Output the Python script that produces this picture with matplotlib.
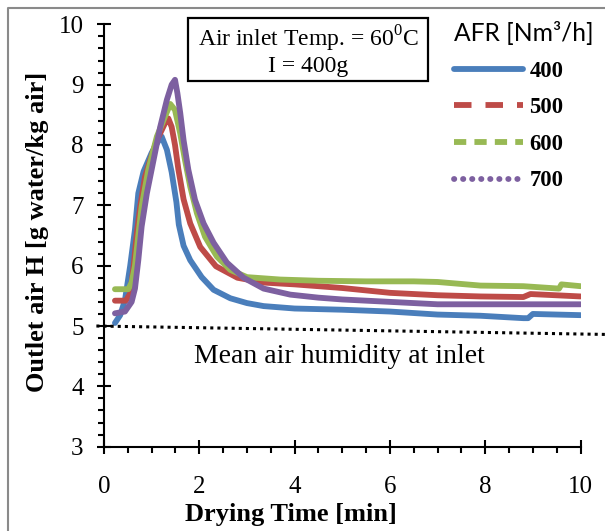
import matplotlib
matplotlib.use("Agg")
import matplotlib.pyplot as plt
from matplotlib.lines import Line2D
from matplotlib.patches import Rectangle
from matplotlib.ticker import MultipleLocator

# Outlet air humidity during drying, for four air flow rates
afr_labels = ["400", "500", "600", "700"]

t_400 = [0.23, 0.34, 0.44, 0.55, 0.65, 0.72, 0.83, 1.00, 1.12, 1.21, 1.32, 1.42,
         1.52, 1.57, 1.67, 1.81, 2.05, 2.30, 2.65, 3.00, 3.35, 4.0, 4.5, 5.0,
         6.0, 7.0, 7.9, 8.8, 8.9, 9.0, 10.0]
h_400 = [5.05, 5.18, 5.43, 6.00, 6.60, 7.20, 7.56, 7.87, 8.04, 8.14, 7.92, 7.55,
         7.05, 6.68, 6.33, 6.09, 5.81, 5.60, 5.46, 5.38, 5.33, 5.29, 5.28, 5.27,
         5.24, 5.19, 5.17, 5.13, 5.13, 5.20, 5.18]

t_500 = [0.23, 0.46, 0.55, 0.62, 0.69, 0.76, 0.86, 0.97, 1.11, 1.28, 1.35, 1.42,
         1.49, 1.56, 1.67, 1.81, 2.02, 2.35, 2.80, 3.35, 4.0, 5.0, 6.0, 7.0,
         7.9, 8.8, 8.95, 10.0]
h_500 = [5.42, 5.42, 5.54, 5.98, 6.54, 6.98, 7.47, 7.75, 8.08, 8.36, 8.44, 8.30,
         8.00, 7.60, 7.10, 6.70, 6.31, 5.99, 5.80, 5.72, 5.69, 5.63, 5.55, 5.51,
         5.49, 5.48, 5.53, 5.49]

t_600 = [0.23, 0.51, 0.58, 0.65, 0.72, 0.79, 0.93, 1.11, 1.28, 1.39, 1.49, 1.60,
         1.70, 1.81, 1.95, 2.12, 2.37, 2.65, 3.0, 3.7, 4.5, 5.5, 6.5, 7.0,
         7.9, 8.8, 9.55, 9.6, 10.0]
h_600 = [5.61, 5.61, 5.72, 6.00, 6.50, 6.98, 7.59, 8.14, 8.47, 8.68, 8.58, 8.19,
         7.75, 7.31, 6.87, 6.48, 6.15, 5.93, 5.81, 5.77, 5.75, 5.74, 5.74, 5.73,
         5.67, 5.66, 5.62, 5.69, 5.66]

t_700 = [0.23, 0.44, 0.58, 0.65, 0.72, 0.79, 0.90, 1.04, 1.18, 1.32, 1.42, 1.49,
         1.54, 1.60, 1.67, 1.77, 1.91, 2.09, 2.30, 2.58, 2.93, 3.35, 3.91, 4.5,
         5.0, 6.0, 7.0, 7.9, 10.0]
h_700 = [5.21, 5.24, 5.40, 5.62, 6.09, 6.65, 7.20, 7.75, 8.30, 8.75, 9.00, 9.08,
         8.86, 8.53, 8.08, 7.59, 7.09, 6.70, 6.38, 6.05, 5.80, 5.62, 5.52, 5.47,
         5.44, 5.40, 5.36, 5.36, 5.36]

# Mean humidity of the inlet air (reference line)
inlet_t = [-0.16, 10.57]
inlet_h = [5.00, 4.86]

x_ticks = [0, 2, 4, 6, 8, 10]
y_ticks = [3, 4, 5, 6, 7, 8, 9, 10]

colors = ["#4A7EBB", "#BE4B48", "#98B954", "#7D60A0"]
legend_dashes = [None, (3.0, 2.4), (2.1, 1.4), (0.05, 1.5)]

SERIF = "Liberation Serif"
plt.rcParams["mathtext.fontset"] = "custom"
plt.rcParams["mathtext.rm"] = SERIF

W, H = 605, 531
fig = plt.figure(figsize=(W / 100, H / 100), dpi=100)
ax = fig.add_axes([104 / W, 1 - 446.7 / H, 476.5 / W, 422.4 / H])

series = [(t_400, h_400), (t_500, h_500), (t_600, h_600), (t_700, h_700)]
lw = 4.2
for (t, h), c in zip(series, colors):
    ax.plot(t, h, color=c, lw=lw, solid_capstyle="round", solid_joinstyle="round")

ax.plot(inlet_t, inlet_h, color="black", lw=2.2, dashes=(1, 1.33),
        dash_capstyle="butt", clip_on=False)

ax.set_xlim(0, 10)
ax.set_ylim(3, 10)
ax.set_xticks(x_ticks)
ax.set_yticks(y_ticks)
ax.xaxis.set_minor_locator(MultipleLocator(0.5))
ax.yaxis.set_minor_locator(MultipleLocator(0.2))

for s in ("top", "right"):
    ax.spines[s].set_visible(False)
for s in ("left", "bottom"):
    ax.spines[s].set_linewidth(1.5)

ax.tick_params(which="major", direction="inout", length=9.5, width=1.5,
               labelsize=18)
ax.tick_params(which="minor", direction="out", length=4.3, width=1.5)
ax.tick_params(axis="x", which="major", pad=16)
ax.tick_params(axis="y", which="major", pad=10)
for lab in ax.get_xticklabels() + ax.get_yticklabels():
    lab.set_fontfamily(SERIF)

ax.set_xlabel("Drying Time [min]", fontfamily=SERIF, fontweight="bold", fontsize=19)
ax.set_ylabel("Outlet air H [g water/kg air]", fontfamily=SERIF,
              fontweight="bold", fontsize=19)
ax.xaxis.set_label_coords(0.392, -0.133)
ax.yaxis.set_label_coords(-0.115, 0.508)

ax.text(4.95, 4.49, "Mean air humidity at inlet", fontfamily=SERIF,
        fontsize=20, ha="center", va="center")

# Condition box
fig.add_artist(Rectangle((188 / W, 1 - 81 / H), 240 / W, 63 / H,
                         transform=fig.transFigure, fc="white", ec="black",
                         lw=1.6))
fig.text(308 / W, 1 - 50.5 / H,
         "Air inlet Temp. = 60$^{0}$C\nI = 400g", fontfamily=SERIF,
         fontsize=17, ha="center", va="center", multialignment="center",
         linespacing=1.15)

handles = []
for c, d in zip(colors, legend_dashes):
    if d is None:
        handles.append(Line2D([], [], color=c, lw=lw, solid_capstyle="round"))
    else:
        cap = "round" if d[0] < 0.5 else "butt"
        handles.append(Line2D([], [], color=c, lw=lw, dashes=d, dash_capstyle=cap))

leg = ax.legend(handles, afr_labels, loc="upper left",
                bbox_to_anchor=(454 / W, 1 - 21 / H),
                bbox_transform=fig.transFigure, frameon=False, borderpad=0,
                borderaxespad=0, handlelength=3.05, handletextpad=0.28,
                labelspacing=0.69, alignment="left",
                title="AFR [Nm³/h]",
                title_fontproperties={"family": "Lato", "size": 17.7},
                prop={"family": SERIF, "weight": "bold", "size": 16.3})

fig.add_artist(Line2D([8 / W, 8 / W, 1.0], [0.0, 1 - 8 / H, 1 - 8 / H],
                      transform=fig.transFigure, color="#8a8a8a", lw=1.5))

fig.savefig("out.png", dpi=100)
